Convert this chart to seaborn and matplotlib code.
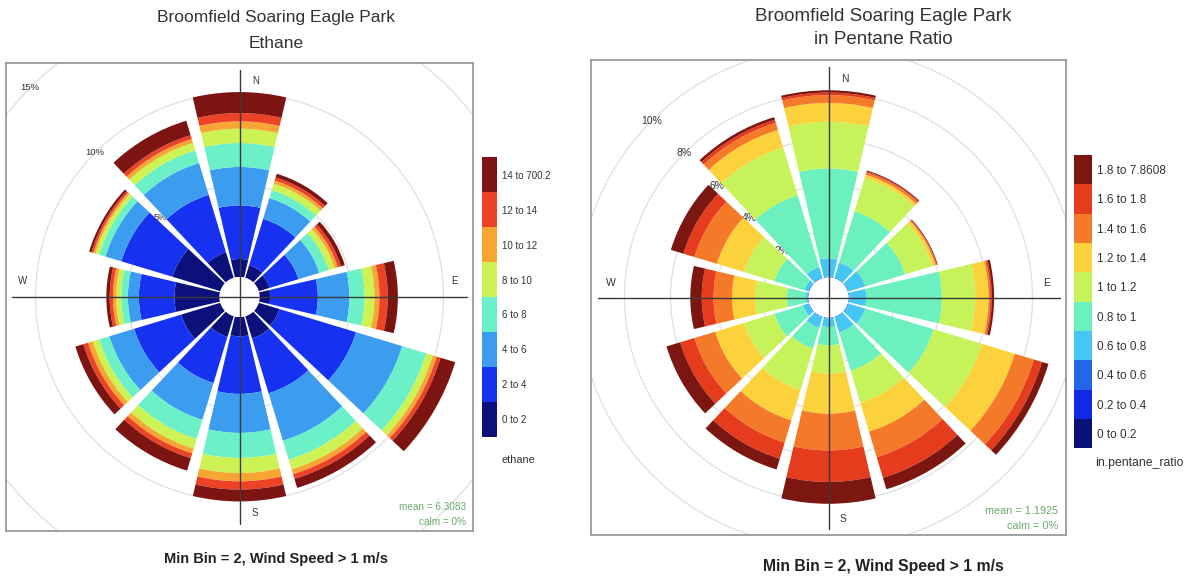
import numpy as np
import pandas as pd
import matplotlib
matplotlib.use("Agg")
import matplotlib.pyplot as plt
import seaborn as sns
from matplotlib.patches import Rectangle
from matplotlib.colors import ListedColormap

# ---------------- data ----------------
directions = [0, 30, 60, 90, 120, 150, 180, 210, 240, 270, 300, 330]

ethane_bins = ["0 to 2", "2 to 4", "4 to 6", "6 to 8", "8 to 10",
               "10 to 12", "12 to 14", "14 to 700.2"]
ethane_0_2 = [0.98, 0.72, 0.63, 0.58, 1.18, 1.27, 1.05, 1.18, 2.23, 2.45, 2.72, 1.45]
ethane_2_4 = [2.91, 2.63, 1.63, 2.59, 4.35, 3.11, 3.13, 2.62, 2.66, 1.93, 2.90, 3.26]
ethane_4_6 = [2.09, 1.18, 1.18, 1.72, 2.62, 2.69, 2.12, 2.09, 1.41, 0.60, 0.90, 1.81]
ethane_6_8 = [1.30, 0.45, 0.54, 0.82, 1.36, 1.08, 1.36, 1.08, 0.58, 0.36, 0.36, 0.72]
ethane_8_10 = [0.78, 0.36, 0.33, 0.54, 0.38, 0.55, 0.82, 0.55, 0.36, 0.27, 0.22, 0.42]
ethane_10_12 = [0.40, 0.18, 0.18, 0.27, 0.22, 0.27, 0.45, 0.27, 0.27, 0.18, 0.11, 0.22]
ethane_12_14 = [0.45, 0.18, 0.18, 0.45, 0.22, 0.27, 0.45, 0.27, 0.27, 0.18, 0.11, 0.22]
ethane_14_max = [1.14, 0.21, 0.22, 0.55, 0.83, 0.51, 0.64, 0.71, 0.45, 0.18, 0.13, 0.82]
ethane_colors = ["#0b107a", "#1631f0", "#3c9cf0", "#6cf0c8", "#cdf254",
                 "#f7a633", "#ec4327", "#7c1512"]
ethane_grid = [5, 10, 15]

ratio_bins = ["0 to 0.2", "0.2 to 0.4", "0.4 to 0.6", "0.6 to 0.8", "0.8 to 1",
              "1 to 1.2", "1.2 to 1.4", "1.4 to 1.6", "1.6 to 1.8", "1.8 to 7.8608"]
ratio_0_02 = [0, 0, 0, 0, 0, 0, 0, 0, 0, 0, 0, 0]
ratio_02_04 = [0, 0, 0, 0, 0, 0, 0, 0, 0, 0, 0, 0]
ratio_04_06 = [0.04, 0.04, 0.04, 0.04, 0.04, 0.04, 0.04, 0.04, 0.04, 0.04, 0.04, 0.04]
ratio_06_08 = [0.79, 0.68, 0.76, 0.73, 0.76, 0.68, 0.37, 0.47, 0.25, 0.10, 0.18, 0.47]
ratio_08_1 = [3.91, 2.32, 1.81, 3.29, 3.11, 1.74, 0.80, 0.94, 1.30, 0.80, 1.37, 3.26]
ratio_1_12 = [2.03, 1.53, 1.23, 1.45, 2.18, 1.45, 1.23, 1.88, 1.38, 1.38, 1.38, 2.17]
ratio_12_14 = [0.82, 0.14, 0.15, 0.58, 1.50, 1.31, 1.74, 1.38, 1.31, 1.01, 1.23, 0.80]
ratio_14_16 = [0.34, 0.10, 0.04, 0.07, 0.87, 1.16, 1.60, 1.01, 0.94, 0.80, 1.02, 0.32]
ratio_16_18 = [0.11, 0.05, 0.03, 0.07, 0.37, 0.94, 1.37, 0.73, 0.65, 0.51, 0.50, 0.14]
ratio_18_max = [0.10, 0.04, 0.03, 0.10, 0.29, 0.52, 0.95, 0.49, 0.62, 0.50, 0.57, 0.12]
ratio_colors = ["#0b1078", "#1228e6", "#2366e8", "#45c6f5", "#6cf0c0",
                "#c6f25a", "#fbd23c", "#f47a2a", "#e63c1e", "#7c1610"]
ratio_grid = [2, 4, 6, 8, 10]

ethane_series = [ethane_0_2, ethane_2_4, ethane_4_6, ethane_6_8, ethane_8_10,
                 ethane_10_12, ethane_12_14, ethane_14_max]
ratio_series = [ratio_0_02, ratio_02_04, ratio_04_06, ratio_06_08, ratio_08_1,
                ratio_1_12, ratio_12_14, ratio_14_16, ratio_16_18, ratio_18_max]

# ---------------- style ----------------
sns.set_theme(style="white")
plt.rcParams["font.family"] = ["Liberation Sans", "DejaVu Sans"]

W, H = 1193, 580
fig = plt.figure(figsize=(W / 100, H / 100), dpi=100)
fig.patch.set_facecolor("white")
TXT = "#333333"


def px_rect(x0, y0, x1, y1):
    return [x0 / W, 1 - y1 / H, (x1 - x0) / W, (y1 - y0) / H]


def rose_panel(box, scale_px, hole_px, series, colors, grid, cross, card_off,
               stats, stats_xy, fs_card, fs_grid, fs_stat):
    x0, y0, x1, y1 = box
    cx, cy = (x0 + x1) / 2, (y0 + y1) / 2
    R = 340
    # frame / overlay axes
    fax = fig.add_axes(px_rect(x0, y0, x1, y1))
    hw, hh = (x1 - x0) / 2, (y1 - y0) / 2
    fax.set_xlim(-hw, hw)
    fax.set_ylim(-hh, hh)
    fax.set_facecolor("none")
    fax.set_xticks([])
    fax.set_yticks([])
    for s in fax.spines.values():
        s.set_visible(True)
        s.set_color("#9a9a9a")
        s.set_linewidth(1.3)
    fax.set_zorder(3)
    clip = Rectangle((0, 0), 1, 1, transform=fax.transAxes)

    # polar axes for the rose
    pax = fig.add_axes(px_rect(cx - R, cy - R, cx + R, cy + R), projection="polar")
    pax.set_zorder(1)
    pax.set_theta_zero_location("N")
    pax.set_theta_direction(-1)
    h = hole_px / scale_px
    theta = np.deg2rad(directions)
    bottom = np.zeros(len(directions))
    for vals, col in zip(series, colors):
        df = pd.DataFrame({"theta": theta, "pct": vals})
        sns.barplot(data=df, x="theta", y="pct", native_scale=True, orient="x",
                    width=0.88, color=col, saturation=1, linewidth=0,
                    errorbar=None, bottom=bottom, ax=pax)
        bottom = bottom + np.asarray(vals, dtype=float)
    for p in pax.patches:
        p.set_zorder(1)
        p.set_antialiased(True)
    tt = np.linspace(0, 2 * np.pi, 721)
    for lev in grid:
        ln, = pax.plot(tt, np.full_like(tt, lev), color="#e2e2e2", lw=1.0, zorder=0.3)
        ln.set_clip_path(clip)
        pax.text(np.deg2rad(315), lev, f"{lev}%", ha="center", va="center",
                 fontsize=fs_grid, color=TXT, zorder=0.6)
    pax.set_rorigin(-h)
    pax.set_ylim(0, R / scale_px - h)
    pax.set_xlabel("")
    pax.set_ylabel("")
    pax.set_axis_off()

    # crosshair and labels
    fax.plot([-cross, cross], [0, 0], color="#3a3a3a", lw=1.0)
    fax.plot([0, 0], [-cross, cross], color="#3a3a3a", lw=1.0)
    for lab, (dx, dy) in zip(["N", "E", "S", "W"], card_off):
        fax.text(dx, dy, lab, ha="center", va="center", fontsize=fs_card, color=TXT)
    (sx, sy1, sy2) = stats_xy
    fax.text(sx, sy1, stats[0], ha="right", va="center", fontsize=fs_stat, color="#6aaa6a")
    fax.text(sx, sy2, stats[1], ha="right", va="center", fontsize=fs_stat, color="#6aaa6a")
    return fax, pax


def key(rect, labels, colors, fs, title, title_xy, fs_title):
    lax = fig.add_axes(px_rect(*rect))
    n = len(labels)
    mat = np.arange(n)[::-1].reshape(-1, 1)
    sns.heatmap(mat, cmap=ListedColormap(colors), vmin=-0.5, vmax=n - 0.5,
                cbar=False, xticklabels=False, yticklabels=labels[::-1],
                linewidths=0, ax=lax)
    lax.yaxis.tick_right()
    lax.tick_params(axis="y", length=0, pad=4, labelsize=fs, rotation=0,
                    labelcolor=TXT)
    for t in lax.get_yticklabels():
        t.set_ha("left")
    lax.set_xlabel("")
    lax.set_ylabel("")
    fig.text(title_xy[0] / W, 1 - title_xy[1] / H, title, ha="left", va="center",
             fontsize=fs_title, color=TXT)


# ---------------- left panel: ethane ----------------
rose_panel(box=(6, 63, 473, 531), scale_px=18.4, hole_px=20,
           series=ethane_series, colors=ethane_colors, grid=ethane_grid,
           cross=227,
           card_off=[(16, 216), (215, 15.6), (15, -216), (-217, 15.6)],
           stats=["mean = 6.3083", "calm = 0%"], stats_xy=(226.5, -209.7, -224.7),
           fs_card=7, fs_grid=6.8, fs_stat=7.2)
key((481.7, 157.3, 496.7, 436.7), ethane_bins, ethane_colors, 7,
    "ethane", (501.7, 460), 7.8)
fig.text(276 / W, 1 - 17.3 / H, "Broomfield Soaring Eagle Park", ha="center",
         va="center", fontsize=12.5, color=TXT)
fig.text(276 / W, 1 - 43.3 / H, "Ethane", ha="center", va="center",
         fontsize=12.5, color=TXT)
fig.text(276 / W, 1 - 559.3 / H, "Min Bin = 2, Wind Speed > 1 m/s", ha="center",
         va="center", fontsize=10.5, fontweight="bold", color="#222222")

# ---------------- right panel: pentane ratio ----------------
rose_panel(box=(591, 60, 1066, 535), scale_px=23, hole_px=20,
           series=ratio_series, colors=ratio_colors, grid=ratio_grid,
           cross=231,
           card_off=[(16, 218), (218, 14.6), (15, -221), (-218, 14.6)],
           stats=["mean = 1.1925", "calm = 0%"], stats_xy=(229.5, -213.2, -228.2),
           fs_card=7.5, fs_grid=7.5, fs_stat=7.8)
key((1074, 155, 1091.7, 448.3), ratio_bins, ratio_colors, 8.5,
    "in.pentane_ratio", (1095, 463), 8.8)
fig.text(883 / W, 1 - 16.7 / H, "Broomfield Soaring Eagle Park", ha="center",
         va="center", fontsize=13.5, color=TXT)
fig.text(883 / W, 1 - 40 / H, "in Pentane Ratio", ha="center", va="center",
         fontsize=13.5, color=TXT)
fig.text(883 / W, 1 - 566.7 / H, "Min Bin = 2, Wind Speed > 1 m/s", ha="center",
         va="center", fontsize=11.3, fontweight="bold", color="#222222")

fig.savefig("out.png", dpi=100, facecolor="white")
